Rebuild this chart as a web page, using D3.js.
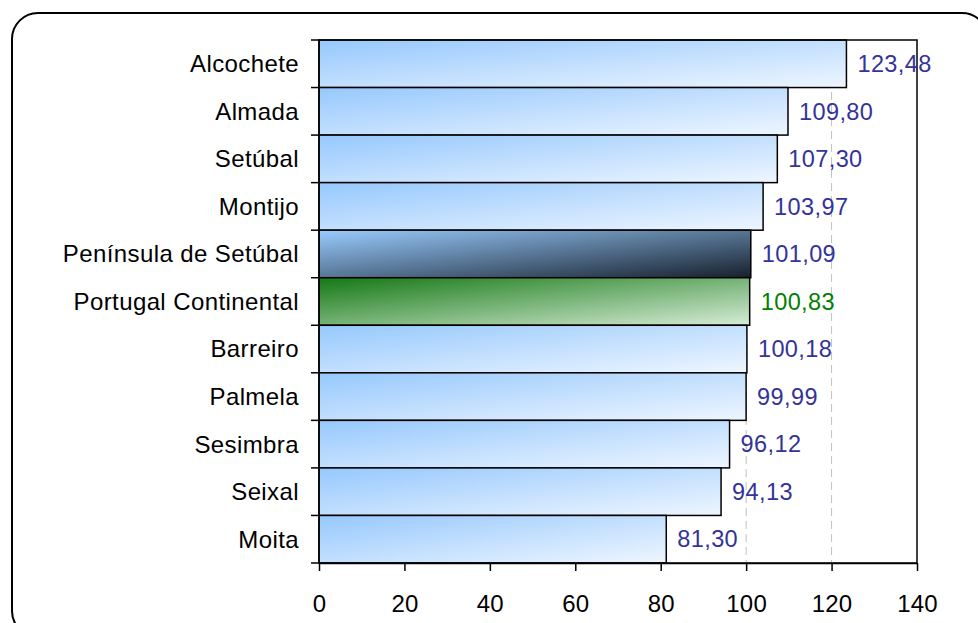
<!DOCTYPE html>
<html>
<head>
<meta charset="utf-8">
<script src="https://cdn.jsdelivr.net/npm/d3@7"></script>
<style>
  body { margin: 0; background: #fff; }
  svg text { font-family: 'Liberation Sans', Arial, sans-serif; }
</style>
</head>
<body>
<div id="chart"></div>
<script>
const categories = ['Alcochete', 'Almada', 'Setúbal', 'Montijo', 'Península de Setúbal',
    'Portugal Continental', 'Barreiro', 'Palmela', 'Sesimbra', 'Seixal', 'Moita'];
const values = [123.48, 109.80, 107.30, 103.97, 101.09, 100.83, 100.18, 99.99, 96.12, 94.13, 81.30];
const xTicks = [0, 20, 40, 60, 80, 100, 120, 140];

const width = 978;
const height = 623;
const margin = { top: 40, right: 61, bottom: 60, left: 319 };

const svg = d3.select('#chart')
    .append('svg')
    .attr('width', width)
    .attr('height', height);

// gradients
const defs = svg.append('defs');
const addGrad = (id, c0, c1) => {
    const g = defs.append('linearGradient')
        .attr('id', id)
        .attr('x1', 0).attr('y1', 0)
        .attr('x2', 1).attr('y2', 1);
    g.append('stop').attr('offset', '0%').attr('stop-color', c0);
    g.append('stop').attr('offset', '100%').attr('stop-color', c1);
};
addGrad('gBlue', '#96c8fd', '#eef6ff');
addGrad('gDark', '#99ccff', '#17202c');
addGrad('gGreen', '#157815', '#d6ecd6');

const fillFor = (cat) => cat === 'Península de Setúbal' ? 'url(#gDark)'
    : cat === 'Portugal Continental' ? 'url(#gGreen)' : 'url(#gBlue)';

// outer frame
svg.append('rect')
    .attr('x', 12).attr('y', 13)
    .attr('width', 976).attr('height', 624)
    .attr('rx', 26)
    .attr('fill', 'none')
    .attr('stroke', '#000')
    .attr('stroke-width', 2);

const x = d3.scaleLinear()
    .domain([0, 140])
    .range([margin.left, width - margin.right]);

const y = d3.scaleBand()
    .domain(categories)
    .range([margin.top, height - margin.bottom])
    .padding(0);

// gridlines
svg.append('g')
    .selectAll('line')
    .data(xTicks.slice(1, -1))
    .join('line')
    .attr('x1', (d) => x(d)).attr('x2', (d) => x(d))
    .attr('y1', margin.top).attr('y2', height - margin.bottom)
    .attr('stroke', '#c0c0c0')
    .attr('stroke-dasharray', '8,5');

// bars
svg.append('g')
    .selectAll('rect')
    .data(categories)
    .join('rect')
    .attr('x', x(0))
    .attr('y', (d) => y(d))
    .attr('width', (d, i) => x(values[i]) - x(0))
    .attr('height', y.bandwidth())
    .attr('fill', (d) => fillFor(d))
    .attr('stroke', '#000')
    .attr('stroke-width', 1.5);

// plot border
svg.append('rect')
    .attr('x', x(0)).attr('y', margin.top)
    .attr('width', x(140) - x(0))
    .attr('height', height - margin.bottom - margin.top)
    .attr('fill', 'none')
    .attr('stroke', '#000')
    .attr('stroke-width', 1.5);

// value labels
svg.append('g')
    .selectAll('text')
    .data(categories)
    .join('text')
    .attr('x', (d, i) => x(values[i]) + 11)
    .attr('y', (d) => y(d) + y.bandwidth() / 2)
    .attr('dy', '0.35em')
    .attr('font-size', 23.5)
    .attr('letter-spacing', 0.4)
    .attr('fill', (d) => d === 'Portugal Continental' ? '#008000' : '#333399')
    .text((d, i) => values[i].toFixed(2).replace('.', ','));

// y axis: ticks at category boundaries
const yAxis = svg.append('g');
yAxis.selectAll('line')
    .data(d3.range(categories.length + 1))
    .join('line')
    .attr('x1', x(0) - 8).attr('x2', x(0))
    .attr('y1', (i) => margin.top + i * y.step())
    .attr('y2', (i) => margin.top + i * y.step())
    .attr('stroke', '#000')
    .attr('stroke-width', 1.5);
yAxis.selectAll('text')
    .data(categories)
    .join('text')
    .attr('x', 299)
    .attr('y', (d) => y(d) + y.bandwidth() / 2)
    .attr('dy', '0.35em')
    .attr('text-anchor', 'end')
    .attr('font-size', 24)
    .attr('letter-spacing', 0.4)
    .attr('fill', '#000')
    .text((d) => d);

// x axis
const xAxis = svg.append('g')
    .attr('transform', `translate(0,${height - margin.bottom})`)
    .call(d3.axisBottom(x).tickValues(xTicks).tickSize(8).tickPadding(24).tickSizeOuter(0));
xAxis.select('.domain').attr('stroke-width', 1.5);
xAxis.selectAll('.tick line').attr('stroke-width', 1.5);
xAxis.selectAll('.tick text')
    .attr('font-size', 24)
    .attr('letter-spacing', 0.2)
    .attr('font-family', "'Liberation Sans', Arial, sans-serif");
</script>
</body>
</html>
